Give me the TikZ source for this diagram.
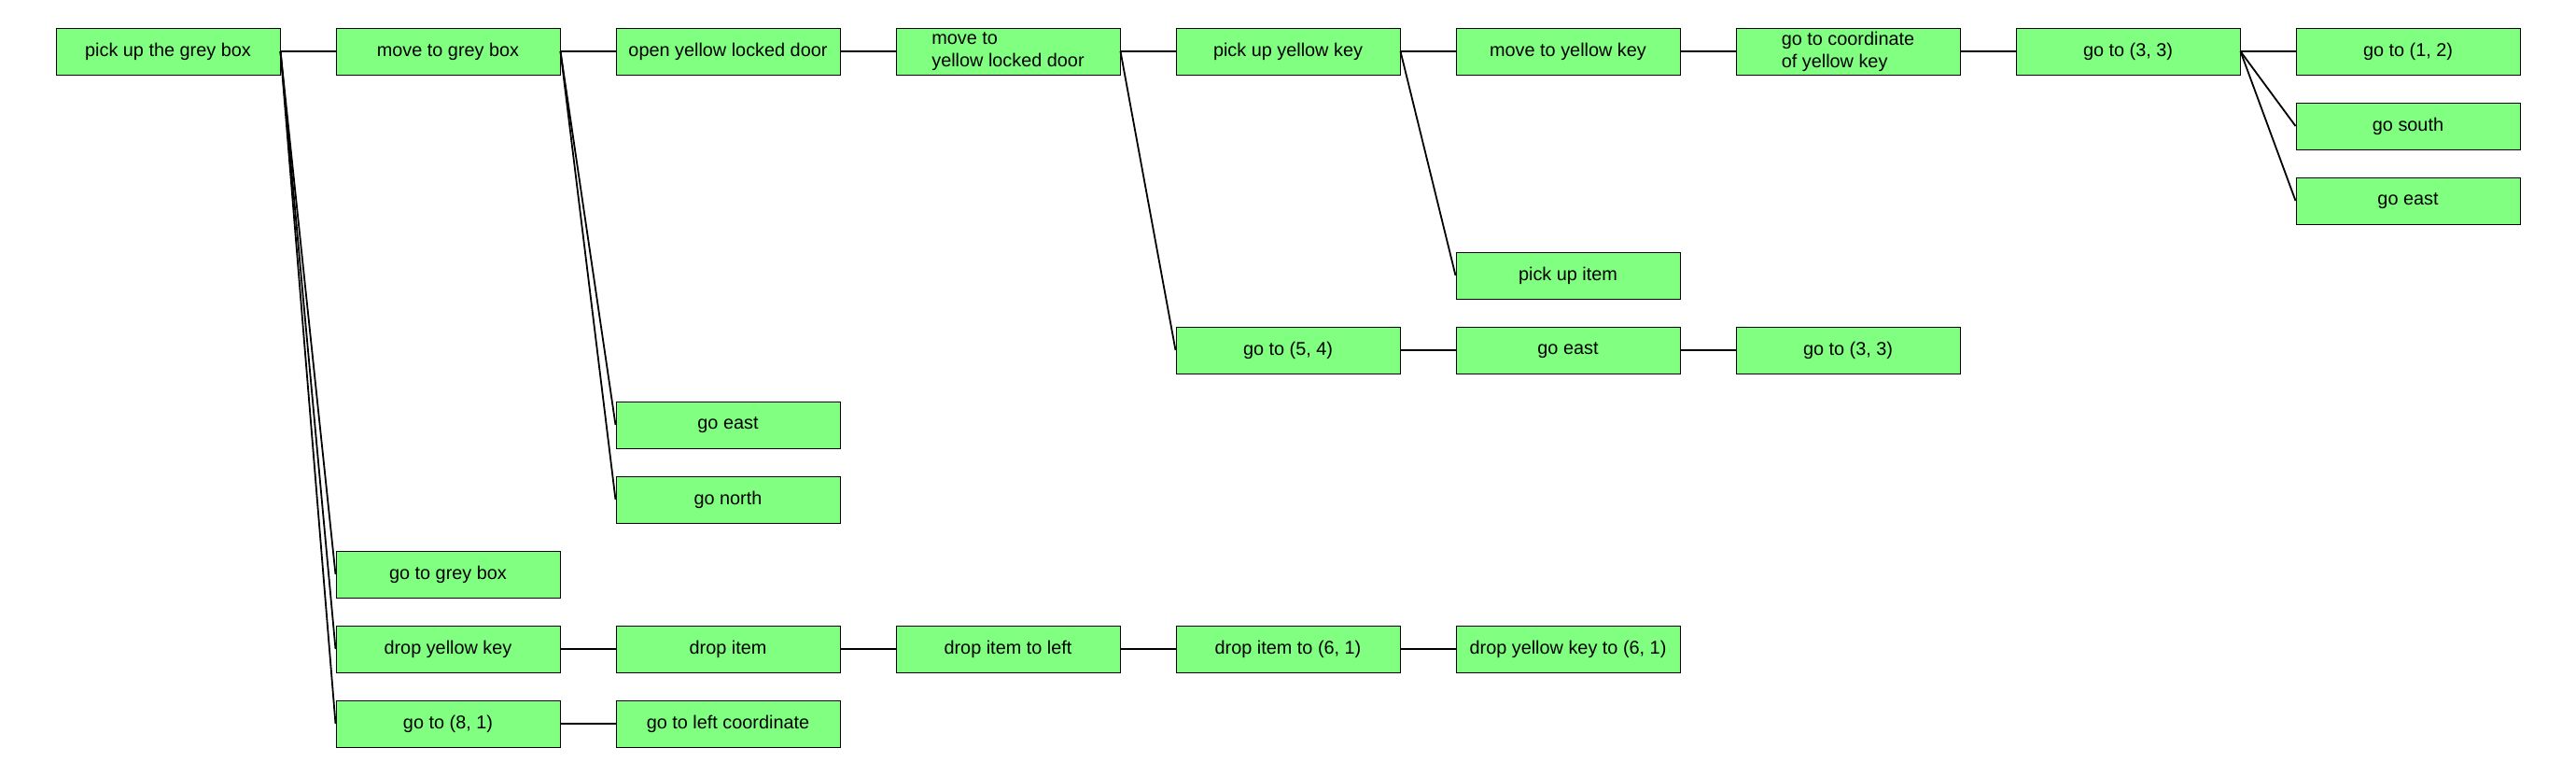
\documentclass[tikz,border=0pt]{standalone}
\usepackage{fontspec}
\setmainfont{Liberation Sans}
\usepackage{tikz}
\usetikzlibrary{shapes,arrows}
\definecolor{taskgreen}{RGB}{128,255,128}
\tikzstyle{task} = [draw, rectangle, fill=taskgreen, line width=0.1mm, minimum height=0.5cm, minimum width=2.4cm, inner sep=0pt, font=\fontsize{5.65}{6.8}\selectfont]
\tikzstyle{link} = [line width=0.18mm]

\begin{document}
\begin{tikzpicture}[node distance=3cm]
    \useasboundingbox (0,0) rectangle (27.6,-8.3);
    % top row
    \node [task] (pick) at (1.8,-0.55) {pick up the grey box};
    \node [task, right of=pick] (movebox) {move to grey box};
    \node [task, right of=movebox] (opendoor) {open yellow locked door};
    \node [task, right of=opendoor, align=left] (movedoor) {move to\\yellow locked door};
    \node [task, right of=movedoor] (pickkey) {pick up yellow key};
    \node [task, right of=pickkey] (movekey) {move to yellow key};
    \node [task, right of=movekey, align=left] (coordkey) {go to coordinate\\of yellow key};
    \node [task, right of=coordkey] (gotoA) {go to (3, 3)};
    \node [task, right of=gotoA] (gotoB) {go to (1, 2)};
    \node [task, below of=gotoB, node distance=0.8cm] (south) {go south};
    \node [task, below of=south, node distance=0.8cm] (eastA) {go east};
    % middle branches
    \node [task, below of=movekey, node distance=2.4cm] (pickitem) {pick up item};
    \node [task, below of=pickkey, node distance=3.2cm] (gotoC) {go to (5, 4)};
    \node [task, right of=gotoC] (eastB) {go east};
    \node [task, right of=eastB] (gotoD) {go to (3, 3)};
    \node [task, below of=opendoor, node distance=4cm] (eastC) {go east};
    \node [task, below of=eastC, node distance=0.8cm] (north) {go north};
    % bottom rows
    \node [task, below of=movebox, node distance=5.6cm] (gotobox) {go to grey box};
    \node [task, below of=gotobox, node distance=0.8cm] (dropkey) {drop yellow key};
    \node [task, right of=dropkey] (dropitem) {drop item};
    \node [task, right of=dropitem] (dropleft) {drop item to left};
    \node [task, right of=dropleft] (dropsix) {drop item to (6, 1)};
    \node [task, right of=dropsix] (dropkeysix) {drop yellow key to (6, 1)};
    \node [task, below of=dropkey, node distance=0.8cm] (gotoE) {go to (8, 1)};
    \node [task, right of=gotoE] (goleft) {go to left coordinate};

    \draw [link] (pick.east) -- (movebox.west);
    \draw [link] (pick.east) -- (gotobox.west);
    \draw [link] (pick.east) -- (dropkey.west);
    \draw [link] (pick.east) -- (gotoE.west);
    \draw [link] (movebox.east) -- (opendoor.west);
    \draw [link] (movebox.east) -- (eastC.west);
    \draw [link] (movebox.east) -- (north.west);
    \draw [link] (opendoor.east) -- (movedoor.west);
    \draw [link] (movedoor.east) -- (pickkey.west);
    \draw [link] (movedoor.east) -- (gotoC.west);
    \draw [link] (pickkey.east) -- (movekey.west);
    \draw [link] (pickkey.east) -- (pickitem.west);
    \draw [link] (movekey.east) -- (coordkey.west);
    \draw [link] (coordkey.east) -- (gotoA.west);
    \draw [link] (gotoA.east) -- (gotoB.west);
    \draw [link] (gotoA.east) -- (south.west);
    \draw [link] (gotoA.east) -- (eastA.west);
    \draw [link] (gotoC.east) -- (eastB.west);
    \draw [link] (eastB.east) -- (gotoD.west);
    \draw [link] (dropkey.east) -- (dropitem.west);
    \draw [link] (dropitem.east) -- (dropleft.west);
    \draw [link] (dropleft.east) -- (dropsix.west);
    \draw [link] (dropsix.east) -- (dropkeysix.west);
    \draw [link] (gotoE.east) -- (goleft.west);
\end{tikzpicture}
\end{document}
